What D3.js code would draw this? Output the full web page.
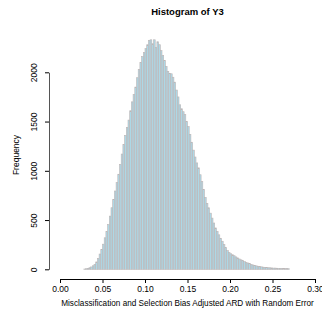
<!DOCTYPE html>
<html>
<head>
<meta charset="utf-8">
<script src="https://cdn.jsdelivr.net/npm/d3@7"></script>
<style>
  body { margin: 0; background: #fff; }
  text { font-family: "Liberation Sans", Arial, Helvetica, sans-serif; fill: #000; }
</style>
</head>
<body>
<svg id="chart" width="322" height="320"></svg>
<script>
// histogram bins: left edges start at binStart, each binWidth wide
const binStart = 0.028;
const binWidth = 0.002;
const counts = [
  3, 6, 10, 16, 24, 36, 50, 75, 110, 155,
  200, 255, 320, 385, 455, 540, 625, 710, 795, 880,
  965, 1065, 1170, 1265, 1360, 1440, 1515, 1610, 1700, 1775,
  1850, 1945, 2030, 2100, 2160, 2200, 2240, 2280, 2325, 2330,
  2290, 2330, 2250, 2310, 2280, 2220, 2170, 2120, 2060, 2010,
  1990, 1985, 1950, 1900, 1820, 1750, 1670, 1630, 1600, 1570,
  1500, 1450, 1370, 1290, 1210, 1140, 1080, 1030, 960, 890,
  810, 730, 670, 625, 570, 520, 470, 420, 385, 350,
  315, 285, 250, 220, 190, 170, 158, 148, 138, 126,
  116, 105, 96, 88, 78, 70, 64, 58, 50, 44,
  40, 35, 31, 28, 25, 22, 20, 18, 16, 15,
  14, 12, 12, 11, 10, 9, 9, 8, 8, 7,
  6
];
const xTicks = [0, 0.05, 0.10, 0.15, 0.20, 0.25, 0.30];
const yTicks = [0, 500, 1000, 1500, 2000];

const title = "Histogram of Y3";
const xLabel = "Misclassification and Selection Bias Adjusted ARD with Random Error";
const yLabel = "Frequency";

const svg = d3.select("#chart");

const x = d3.scaleLinear().domain([0, 0.3]).range([60, 315]);
const y = d3.scaleLinear().domain([0, 2000]).range([269.3, 72.3]);

const bins = counts.map((c, i) => ({x0: binStart + i * binWidth, x1: binStart + (i + 1) * binWidth, n: c}));

svg.append("g")
  .selectAll("rect")
  .data(bins)
  .join("rect")
  .attr("x", d => x(d.x0))
  .attr("width", d => x(d.x1) - x(d.x0))
  .attr("y", d => y(d.n))
  .attr("height", d => y(0) - y(d.n))
  .attr("fill", "lightblue")
  .attr("stroke", "#bdb5b5")
  .attr("stroke-width", 0.6);

// x axis, R style: line spans first to last tick, offset below the plot
const xAxis = svg.append("g").attr("transform", "translate(0,279)");
xAxis.call(d3.axisBottom(x).tickValues(xTicks).tickFormat(d3.format(".2f")).tickSizeOuter(0).tickSizeInner(4).tickPadding(3));
xAxis.select(".domain").attr("stroke", "#000").attr("stroke-width", 1);
xAxis.selectAll(".tick line").attr("stroke", "#000");
xAxis.selectAll(".tick text").attr("font-size", 8.5).attr("font-family", "Liberation Sans, Arial, sans-serif");

// y axis with rotated labels
const yAxis = svg.append("g").attr("transform", "translate(49,0)");
yAxis.call(d3.axisLeft(y).tickValues(yTicks).tickSizeOuter(0).tickSizeInner(4).tickFormat(d3.format("d")));
yAxis.select(".domain").attr("stroke", "#555").attr("stroke-width", 1);
yAxis.selectAll(".tick line").attr("stroke", "#000");
yAxis.selectAll(".tick text")
  .attr("font-size", 8.5)
  .attr("font-family", "Liberation Sans, Arial, sans-serif")
  .attr("x", null).attr("dy", null)
  .attr("text-anchor", "middle")
  .attr("transform", "translate(-12,0) rotate(-90)")
  .attr("y", 0);

svg.append("text")
  .attr("x", 187.5).attr("y", 15)
  .attr("text-anchor", "middle")
  .attr("font-size", 9.5).attr("font-weight", "bold")
  .text(title);

svg.append("text")
  .attr("x", 187.5).attr("y", 306)
  .attr("text-anchor", "middle")
  .attr("font-size", 8.2)
  .text(xLabel);

svg.append("text")
  .attr("transform", "translate(18.5,155) rotate(-90)")
  .attr("text-anchor", "middle")
  .attr("font-size", 8.5)
  .text(yLabel);
</script>
</body>
</html>
